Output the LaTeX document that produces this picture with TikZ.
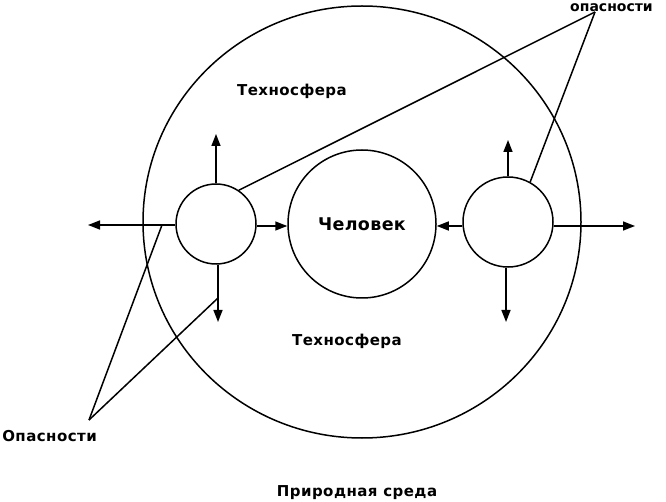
\documentclass[tikz,border=0pt]{standalone}
\usepackage{fontspec}
\setmainfont{DejaVu Sans}
\usetikzlibrary{arrows.meta}
\tikzset{
  ln/.style={line width=1.5pt, black},
  arr/.style={ln, -{Triangle[length=12pt,width=9pt]}},
  circ/.style={circle, draw, line width=1.5pt, inner sep=0pt},
  lbl/.style={font=\fontsize{15}{17}\selectfont\bfseries\addfontfeature{LetterSpace=3}, inner sep=0pt}
}
\begin{document}
\begin{tikzpicture}[x=1pt,y=-1pt]
\useasboundingbox (0,0) rectangle (666,502);
% big circle
\draw[ln] (362,222) ellipse [x radius=219, y radius=216];
% circles
\node[circ, minimum size=148pt] (C) at (362,224) {};
\node[lbl, font=\fontsize{17.5}{19}\selectfont\bfseries\addfontfeature{LetterSpace=2}] (tC) at (362,224) {Человек};
\node[circ, minimum size=80pt] (L) at (216,224) {};
\node[circ, minimum size=90pt] (R) at (508,222) {};
% labels
\node[lbl] (t1) at (292,91) {Техносфера};
\node[lbl] (t2) at (347,341) {Техносфера};
\node[lbl] (t3) at (357,493) {Природная среда};
\node[lbl, anchor=east] (t4) at (97,436) {Опасности};
\node[lbl, font=\fontsize{14}{16}\selectfont\bfseries, anchor=north west] (t5) at (570,3) {опасности};
% arrow tips
\coordinate (Lu) at (216,134);
\coordinate (Ll) at (88,225);
\coordinate (Ld) at (218,322);
\coordinate (Ru) at (508,140);
\coordinate (Rr) at (635,226);
\coordinate (Rd) at (506,322);
% arrows from L
\draw[arr] (L.north) -- (Lu);
\draw[arr] (L.west) ++(0,1) -- (Ll);
\draw[arr] (L.east) ++(0,2) -- (C.west |- 0,226);
\draw[arr] (L.south) ++(2,0) -- (Ld);
% arrows from R
\draw[arr] (R.north) -- (Ru);
\draw[arr] (R.west) ++(0,4) -- (C.east |- 0,226);
\draw[arr] (R.east) ++(0,4) -- (Rr);
\draw[arr] (R.south) ++(-2,0) -- (Rd);
% hazard pointers
\coordinate (a1) at (595,12);
\coordinate (a2) at (89,420);
\coordinate (c1) at (162,225);
\coordinate (c2) at (218,298);
\draw[ln] (a1) -- (L.56);
\draw[ln] (a1) -- (R.61);
\draw[ln] (a2) -- (c1);
\draw[ln] (a2) -- (c2);
\end{tikzpicture}
\end{document}
